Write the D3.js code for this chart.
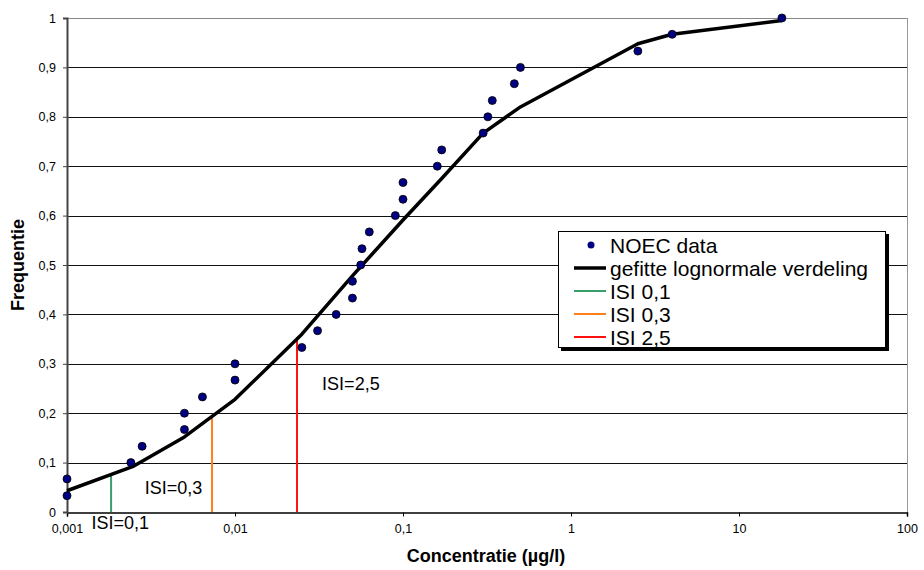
<!DOCTYPE html>
<meta charset="utf-8">
<style>
body{margin:0;background:#fff;}
text{font-family:"Liberation Sans",Arial,sans-serif;fill:#000;}
.tick text{font-size:12.5px;}
.title{font-size:18px;font-weight:bold;}
.isi{font-size:18px;}
.legend text{font-size:21px;}
</style>
<body>
<script src="https://cdn.jsdelivr.net/npm/d3@7"></script>
<script>

// NOEC data points (concentration in µg/l, cumulative frequency)
var noecConc = [0.001, 0.001, 0.0024, 0.0028, 0.005, 0.005, 0.0064, 0.01, 0.01, 0.025,
	0.031, 0.04, 0.05, 0.05, 0.056, 0.057, 0.063, 0.09, 0.1, 0.1,
	0.16, 0.17, 0.3, 0.32, 0.34, 0.46, 0.5, 2.5, 4, 18];
var noecFreq = [0.033, 0.067, 0.1, 0.133, 0.167, 0.2, 0.233, 0.267, 0.3, 0.333,
	0.367, 0.4, 0.433, 0.467, 0.5, 0.533, 0.567, 0.6, 0.633, 0.667,
	0.7, 0.733, 0.767, 0.8, 0.833, 0.867, 0.9, 0.933, 0.967, 1];

// fitted lognormal curve as drawn
var fitConc = [0.001, 0.0025, 0.005, 0.01, 0.025, 0.05, 0.1, 0.17, 0.3, 0.5, 2.5, 4, 18];
var fitFreq = [0.043, 0.093, 0.152, 0.228, 0.36, 0.478, 0.591, 0.675, 0.767, 0.82, 0.948, 0.967, 0.995];

// ISI marker lines
var isiNames = ["ISI 0,1", "ISI 0,3", "ISI 2,5"];
var isiLabels = ["ISI=0,1", "ISI=0,3", "ISI=2,5"];
var isiConc = [0.00183, 0.0073, 0.0234];
var isiFreq = [0.075, 0.194, 0.354];
var isiColors = ["#3a9e6a", "#ff7f1a", "#ff1010"];
// label anchor (concentration, frequency)
var isiLabelConc = [0.0014, 0.0029, 0.033];
var isiLabelFreq = [-0.035, 0.036, 0.247];

var xTicks = [0.001, 0.01, 0.1, 1, 10, 100];
var yTicks = [0, 0.1, 0.2, 0.3, 0.4, 0.5, 0.6, 0.7, 0.8, 0.9, 1];

var W = 924, H = 570;
var m = {left:67, right:17, top:18, bottom:58};

var nl = d3.formatLocale({decimal:",", thousands:".", grouping:[3], currency:["€",""]});
var fmt = function(d){ return nl.format("~g")(d); };

var svg = d3.select("body").append("svg").attr("width", W).attr("height", H);

var x = d3.scaleLog().domain([0.001, 100]).range([m.left, W - m.right]);
var y = d3.scaleLinear().domain([0, 1]).range([H - m.bottom, m.top]);

// grid
svg.append("g").selectAll("line").data(yTicks.slice(1)).join("line")
	.attr("x1", x(0.001)).attr("x2", x(100))
	.attr("y1", d=>Math.round(y(d))+0.5).attr("y2", d=>Math.round(y(d))+0.5)
	.attr("stroke", d=> d==1 ? "#888" : "#111").attr("stroke-width", 1);

// right border
svg.append("line").attr("x1", x(100)+0.5).attr("x2", x(100)+0.5)
	.attr("y1", y(1)).attr("y2", y(0)).attr("stroke", "#999");

// axes
var xAxis = d3.axisBottom(x).tickValues(xTicks).tickFormat(fmt).tickSize(4).tickPadding(8);
var gx = svg.append("g").attr("transform", "translate(0," + (y(0)+0.5) + ")").call(xAxis);
gx.select(".domain").attr("stroke", "#000").attr("stroke-width", 1.5);

var yAxis = d3.axisLeft(y).tickValues(yTicks).tickFormat(fmt).tickSize(4).tickPadding(7);
var gy = svg.append("g").attr("transform", "translate(" + (x(0.001)) + ",0)").call(yAxis);
gy.select(".domain").attr("stroke", "#444").attr("stroke-width", 2);
gy.selectAll(".tick line").attr("stroke", "#444");

svg.append("text").attr("class", "title")
	.attr("x", (x(0.001)+x(100))/2 - 1).attr("y", 562)
	.attr("text-anchor", "middle").text("Concentratie (µg/l)");
svg.append("text").attr("class", "title")
	.attr("transform", "translate(24," + ((y(0)+y(1))/2) + ") rotate(-90)")
	.attr("text-anchor", "middle").text("Frequentie");

// ISI lines
svg.append("g").selectAll("line").data(isiConc).join("line")
	.attr("x1", d=>x(d)).attr("x2", d=>x(d))
	.attr("y1", y(0)).attr("y2", (d,i)=>y(isiFreq[i]))
	.attr("stroke", (d,i)=>isiColors[i]).attr("stroke-width", 2);

// fitted curve
var line = d3.line().x(d=>x(d[0])).y(d=>y(d[1]));
svg.append("path").datum(fitConc.map((c,i)=>[c, fitFreq[i]]))
	.attr("d", line).attr("fill", "none").attr("stroke", "#000")
	.attr("stroke-width", 3.5).attr("stroke-linejoin", "round");

// points
svg.append("g").selectAll("circle").data(noecConc).join("circle")
	.attr("cx", d=>x(d)).attr("cy", (d,i)=>y(noecFreq[i])).attr("r", 4)
	.attr("fill", "#000080").attr("stroke", "#000").attr("stroke-width", 0.8);

// ISI labels
svg.append("g").selectAll("text").data(isiLabels).join("text").attr("class", "isi")
	.attr("x", (d,i)=>x(isiLabelConc[i])).attr("y", (d,i)=>y(isiLabelFreq[i]))
	.text(d=>d);

// legend
var lg = svg.append("g").attr("class", "legend").attr("transform", "translate(558,231)");
lg.append("rect").attr("x", 3).attr("y", 3).attr("width", 328).attr("height", 117).attr("fill", "#000");
lg.append("rect").attr("x", 0.5).attr("y", 0.5).attr("width", 327).attr("height", 116)
	.attr("fill", "#fff").attr("stroke", "#000");
var entries = ["NOEC data", "gefitte lognormale verdeling"].concat(isiNames);
var row = lg.selectAll("g.row").data(entries).join("g").attr("class", "row")
	.attr("transform", (d,i)=>"translate(0," + (14 + i*23) + ")");
row.append("text").attr("x", 52).attr("y", 7.5).text(d=>d);
row.filter((d,i)=>i==0).append("circle").attr("cx", 33).attr("cy", 0).attr("r", 3.5)
	.attr("fill", "#000080");
row.filter((d,i)=>i>0).append("line").attr("x1", 16).attr("x2", 48)
	.attr("stroke", (d,i)=> i==0 ? "#000" : isiColors[i-1])
	.attr("stroke-width", (d,i)=> i==0 ? 3.5 : 2);

</script>
</body>
